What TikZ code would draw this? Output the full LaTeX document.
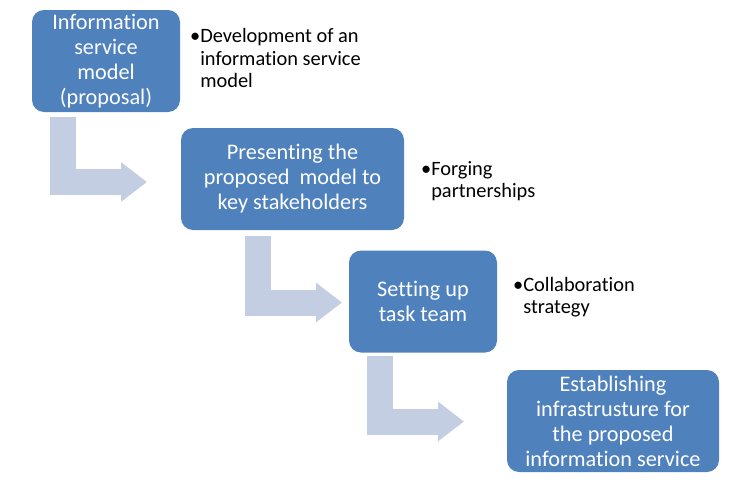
\documentclass[tikz,border=0pt]{standalone}
\usepackage{fontspec}
\setmainfont{Carlito}[Ligatures=NoCommon]
\usetikzlibrary{arrows.meta}

\definecolor{stageblue}{HTML}{4F81BD}
\definecolor{arrowgrey}{HTML}{C3CEE2}

\tikzset{
  stagebox/.style={fill=stageblue, rounded corners=9pt, text=white, align=center,
    minimum height=76.5pt, inner sep=2pt, font=\fontsize{16.7}{18.75}\selectfont},
  notetext/.style={anchor=west, align=left, inner sep=0pt, font=\fontsize{15.3}{17}\selectfont},
  bentarrow/.style={draw=arrowgrey, line width=19.5pt, line join=miter,
    -{Triangle[length=19.5pt, width=28.5pt, fill=arrowgrey]}}
}

\begin{document}
\begin{tikzpicture}[x=0.75pt, y=-0.75pt]
          \useasboundingbox (0,0) rectangle (751,486);
          % the four stages
          \node[stagebox, minimum width=111pt] (model) at (106,61) {Information\\service\\model\\(proposal)};
          \node[stagebox, minimum width=167.25pt] (present) at (292.5,179) {Presenting the\\proposed\ \ model to\\key stakeholders};
          \node[stagebox, minimum width=111pt] (team) at (423,301.5) {Setting up\\task team};
          \node[stagebox, minimum width=159pt] (infra) at (613,421) {Establishing\\infrastrusture for\\the proposed\\information service};
          % notes beside the stages
          \node[notetext] (modelnote) at (200,58) {\llap{\textbullet}Development of an\\information service\\model};
          \node[notetext] (presentnote) at (431,181) {\llap{\textbullet}Forging\\partnerships};
          \node[notetext] (teamnote) at (523,297) {\llap{\textbullet}Collaboration\\strategy};
          % bent arrows
          \coordinate (a1) at (63,117);
          \coordinate (t1) at (147,182);
          \coordinate (a2) at (258,236);
          \coordinate (t2) at (342,302.5);
          \coordinate (a3) at (380,356);
          \coordinate (t3) at (464,421.5);
          \draw[bentarrow] (a1) |- (t1);
          \draw[bentarrow] (a2) |- (t2);
          \draw[bentarrow] (a3) |- (t3);
        \end{tikzpicture}
\end{document}
